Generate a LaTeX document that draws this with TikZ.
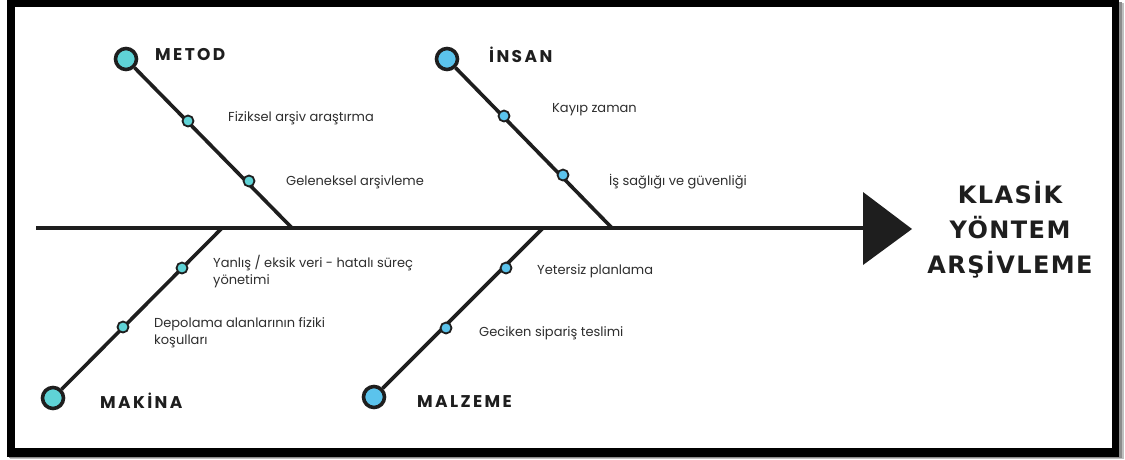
\documentclass[tikz,border=0pt]{standalone}
\usepackage{fontspec}
\setmainfont{Poppins}
\newfontfamily\headfont[LetterSpace=14]{Poppins}
\newfontfamily\titlefont[LetterSpace=6]{DejaVu Sans}
\definecolor{ink}{HTML}{1E1E1E}
\definecolor{txt}{HTML}{2E2E2E}
\definecolor{teal}{HTML}{5FD3D6}
\definecolor{sky}{HTML}{5BC3EC}
\begin{document}
\begin{tikzpicture}[x=1pt,y=-1pt,
  bone/.style={draw=ink, line width=3.6pt},
  bigdot/.style={circle, draw=ink, line width=3.6pt, minimum size=21pt, inner sep=0pt},
  smalldot/.style={circle, draw=ink, line width=1.8pt, minimum size=11pt, inner sep=0pt},
  cause/.style={font=\headfont\bfseries\fontsize{17}{20}\selectfont, text=ink, anchor=west, inner sep=0pt},
  item/.style={font=\fontsize{13}{17}\selectfont, text=txt, anchor=west, inner sep=0pt, align=left},
  title/.style={font=\titlefont\bfseries\fontsize{24}{35}\selectfont, text=ink, align=center, inner sep=0pt}]
\useasboundingbox (0,0) rectangle (1125,459);

% frame with soft shadow
\fill[black!25] (10,3) rectangle (1124,459);
\fill[black!45] (9,2) rectangle (1122,458);
\fill[black] (7,-2) rectangle (1119,457);
\fill[white] (15,7) rectangle (1112,448);

% spine and head
\coordinate (tail) at (36,228);
\coordinate (base) at (863,228);
\draw[bone, line width=4pt] (tail) -- (base);
\fill[ink] (863,192) -- (912,229) -- (863,265) -- cycle;

% joints on the spine
\coordinate (jm) at (292,228);
\coordinate (ji) at (612,228);
\coordinate (jk) at (222,228);
\coordinate (jz) at (543,228);

% upper bones
\node[bigdot, fill=teal] (metod) at (126,59) {};
\node[bigdot, fill=sky] (insan) at (447,59) {};
\draw[bone] (metod) -- (jm);
\draw[bone] (insan) -- (ji);
\node[smalldot, fill=teal] (m1) at (188,121) {};
\node[smalldot, fill=teal] (m2) at (249,181) {};
\node[smalldot, fill=sky] (i1) at (504,116) {};
\node[smalldot, fill=sky] (i2) at (563,175) {};

% lower bones
\node[bigdot, fill=teal] (makina) at (53,398) {};
\node[bigdot, fill=sky] (malzeme) at (374,397) {};
\draw[bone] (makina) -- (jk);
\draw[bone] (malzeme) -- (jz);
\node[smalldot, fill=teal] (k1) at (182,268) {};
\node[smalldot, fill=teal] (k2) at (123,327) {};
\node[smalldot, fill=sky] (z1) at (506,268) {};
\node[smalldot, fill=sky] (z2) at (446,328) {};

% category labels
\node[cause] (lmetod) at (155,55) {METOD};
\node[cause] (linsan) at (489,55) {İNSAN};
\node[cause] (lmakina) at (100,401) {MAKİNA};
\node[cause] (lmalzeme) at (417,402) {MALZEME};

% causes
\node[item] (t1) at (228,118) {Fiziksel arşiv araştırma};
\node[item] (t2) at (286,182) {Geleneksel arşivleme};
\node[item] (t3) at (552,110) {Kayıp zaman};
\node[item] (t4) at (609,182) {İş sağlığı ve güvenliği};
\node[item] (t5) at (213,272) {Yanlış / eksik veri - hatalı süreç\\yönetimi};
\node[item] (t6) at (154,333) {Depolama alanlarının fiziki\\koşulları};
\node[item] (t7) at (537,271) {Yetersiz planlama};
\node[item] (t8) at (479,333) {Geciken sipariş teslimi};

% effect
\node[title] (effect) at (1010,230) {KLASİK\\YÖNTEM\\ARŞİVLEME};
\end{tikzpicture}
\end{document}
